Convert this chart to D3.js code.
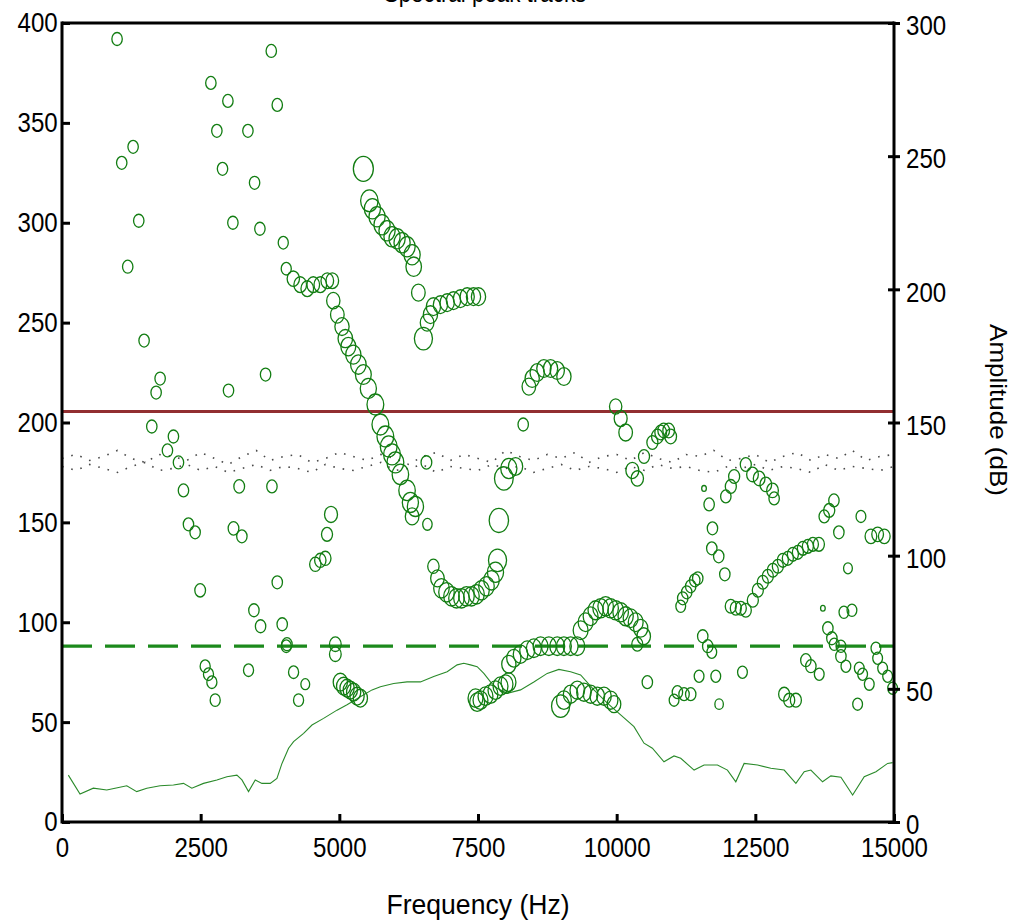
<!DOCTYPE html>
<html>
<head>
<meta charset="utf-8">
<script src="https://cdn.jsdelivr.net/npm/d3@7"></script>
<style>
  html, body { margin: 0; padding: 0; background: #fff; }
  svg text { font-family: "Liberation Sans", Arial, sans-serif; }
</style>
</head>
<body>
<svg id="chart" width="1016" height="922"></svg>
<script>
// ---------- data ----------
const xTicks = [0, 2500, 5000, 7500, 10000, 12500, 15000];
const leftTicks = [0, 50, 100, 150, 200, 250, 300, 350, 400];
const rightTicks = [0, 50, 100, 150, 200, 250, 300];

const titleText = "Spectral peak tracks";
const xLabel = "Frequency (Hz)";
const rightLabel = "Amplitude (dB)";

// reference levels (left axis units)
const redLevel = 205.5;
const greenLevel = 88;

// spectral peaks: frequency (Hz), left-axis value, peak amplitude (dB)
const peakFreq = [
  993,3773,2684,2991,3881,2792,3352,1282,1077,2894,3472,1384,3081,3568,3989,1185,4043,
  1480,1769,1697,3002,3670,1619,
  2009,1901,2100,2190,3195,3785,2280,2400,3092,3243,2491,3881,3460,3580,3970,4043,
  2581,2641,2702,2762,3363,4175,4386,4265,4056,
  4170,4295,4422,4530,4657,4783,4873,
  4891,4964,5048,5108,5162,5252,5343,5433,5523,5650,5740,5830,5890,5950,6011,6101,6221,6281,6372,6312,
  5433,5541,5596,5680,5770,5860,5950,6041,6131,6221,6312,6341,6425,6516,
  6582,6642,6696,6823,6944,7058,7184,7305,7419,7509,
  6570,6588,4850,4778,4567,4657,4747,4928,4928,
  6696,6769,6841,6932,7022,7112,7202,7292,7382,7473,7563,7653,7743,7815,7852,
  7876,7966,8056,8177,8315,
  8417,8477,8567,8688,8808,8929,9049,
  9982,10072,10162,
  10644,10734,10794,10848,10938,10974,10493,10283,10372,
  11575,11667,11727,11715,11840,11950,
  12118,12058,11968,12328,12449,12569,12689,12810,12839,
  13917,13832,13742,14404,14006,14584,14705,14825,
  11155,11191,11263,11335,11408,11462,
  12057,12148,12238,12328,
  12455,12545,12635,12725,12816,12906,12996,13086,13177,13267,13357,13447,13538,13646,
  13718,14097,14242,13808,13880,14170,
  9350,9440,9530,9621,9711,9801,9891,9982,10072,10162,10252,10343,10433,10487,10372,
  8056,8146,8267,8387,8507,8628,8778,8929,9049,9170,9290,
  7455,7485,7545,7635,7725,7815,7906,7996,8050,
  8989,9049,9170,9290,9410,9530,9651,9771,9891,9952,
  5018,5078,5139,5198,5258,5319,5379,
  10553,11095,11215,11335,11035,11486,11787,12268,11847,11552,11642,11715,
  13411,13501,13652,13020,13111,13231,14344,
  14043,14133,14374,14434,14554,14674,14705,14795,14885,14975,13922,14043
];
const peakValue = [
  392,386,370,361,359,346,346,338,330,327,320,301,300,297,290,278,277,
  241,222,215,216,224,198,
  193,186,180,166,168,168,149,145,147,143,116,120,106,98,99,88,
  78,74,70,61,76,75,69,61,89,
  272,269,267,269,269,271,271,
  261,254,248,242,238,234,229,224,217,209,199,193,188,184,180,174,166,160,158,153,
  327,311,307,303,299,296,293,292,290,288,284,278,265,242,
  250,254,258,259,260,261,262,263,263,263,
  180,149,154,144,129,131,132,84,89,
  128,122,117,115,113,112,112,113,113,114,116,118,121,125,131,
  151,172,177,178,199,
  218,222,225,227,227,226,223,
  208,202,195,
  190,193,195,196,196,193,183,176,172,
  167,159,147,137,133,124,
  173,168,163,179,174,172,169,166,162,
  161,156,153,153,145,143,144,143,
  108,112,115,118,121,122,
  108,107,107,106,
  111,116,120,123,126,128,131,132,134,135,137,138,139,139,
  107,105,106,97,92,127,
  96,100,103,106,107,108,107,106,105,103,102,100,97,93,89,
  79,82,84,86,87,88,88,88,88,88,88,
  62,60,61,63,64,66,68,69,70,
  58,61,64,66,65,64,63,63,61,59,
  70,68,67,66,65,63,62,
  70,65,64,64,61,73,73,75,59,93,88,85,
  81,78,74,64,61,61,59,
  83,78,77,74,69,87,82,77,73,67,89,88
];
const peakAmp = [
  30,30,30,30,30,30,30,30,30,30,30,30,30,30,29,30,29,
  30,30,30,30,30,30,
  30,30,30,30,31,30,30,30,31,30,31,30,30,30,30,29,
  29,29,29,29,29,29,25,29,30,
  36,37,37,37,37,37,37,
  39,40,42,43,44,45,46,47,48,50,50,50,50,50,50,49,49,48,48,40,
  60,52,48,48,48,48,48,48,48,48,48,46,40,54,
  40,42,42,42,42,42,42,42,42,42,
  31,27,38,32,33,33,33,34,34,
  33,40,46,46,46,46,46,46,46,46,46,46,46,48,54,
  58,56,48,42,30,
  40,42,42,42,42,42,42,
  36,38,40,
  32,34,34,34,34,34,32,38,36,
  12,30,30,30,30,30,
  32,32,30,32,34,34,34,34,30,
  30,32,30,28,30,34,34,34,
  28,30,30,30,30,30,
  32,32,32,32,
  32,32,32,32,32,32,32,32,32,32,32,32,32,32,
  12,28,28,30,30,25,
  44,44,44,45,46,46,46,46,46,45,44,44,42,40,32,
  42,42,43,44,44,44,44,44,44,44,44,
  44,44,44,44,44,44,44,44,44,
  54,44,43,43,43,43,43,43,43,40,
  42,42,42,42,42,42,42,
  30,30,30,30,28,28,28,28,24,30,30,28,
  30,30,28,32,32,32,28,
  30,28,28,28,28,28,28,28,28,28,28,28
];

// amplitude spectrum envelope (right axis, dB)
const envFreq = [
  114,325,565,807,957,1168,1348,1529,1769,2009,
  2190,2341,2551,2792,2973,3153,3244,3363,3484,3605,
  3754,3875,3966,4085,4175,4356,4507,4716,4958,5139,
  5379,5590,5740,5980,6221,6462,6702,6944,7124,7244,
  7364,7485,7605,7725,7846,8027,8267,8507,8748,8958,
  9169,9350,9590,9832,10072,10312,10493,10644,10853,11034,
  11155,11396,11576,11817,11997,12148,12298,12540,12779,13020,
  13231,13381,13501,13712,13862,14043,14254,14463,14675,14885,14975
];
const envDb = [
  17.6,10.5,12.7,12,12.7,13.6,11.4,12.7,13.6,13.9,
  14.5,12.7,14.5,15.8,17,17.6,15.8,11.4,15.8,14.5,
  14.5,16.4,22,27.7,30.2,33.3,36.4,38.9,42,44,
  47,49.6,50.8,52,52.6,52.6,54.6,56.4,59,59.6,
  59,58.3,55.8,52.6,50.2,48.3,49.6,52.6,55.8,57.3,
  56.4,55.2,49.6,44.6,40.2,35.8,29.6,27.7,22.6,24.8,
  23.9,19.5,21.4,21.4,19.5,15.1,22,21.4,20.2,19.5,
  14.5,18.9,19.5,15.1,17.3,16.8,10.1,17,18.9,22,22.3
];

// dotted noise-floor traces (left-axis units), sampled evenly over 0..15000 Hz
const noiseUpper = [182,184,181,183,186,182,180,184,183,181,185,182,179,183,186,181,183,184,180,182,185,183,181,184,182,179,183,185,181,184,182,180,186,183,181,184,182,185,180,183,184,181,185,182,180,184,183,186,181,182,184,180,183,185,181,184,182,186,181,183,184];
const noiseLower = [178,176,179,177,175,178,180,176,177,179,176,178,175,177,179,176,178,177,175,179,177,176,178,180,176,177,179,175,178,177,176,179,177,178,175,177,179,176,178,177,175,178,176,179,177,178,176,175,178,177,179,176,178,177,175,179,176,178,177,176,178];

// ---------- layout ----------
const L = 62, R = 894, T = 23, B = 822;
const FS = 28, SX = 0.86;
const svg = d3.select("#chart");

const x = d3.scaleLinear().domain([0, 15000]).range([L, R]);
const yL = d3.scaleLinear().domain([0, 400]).range([B, T]);
const yR = d3.scaleLinear().domain([0, 300]).range([B, T]);
const rScale = d3.scaleLinear().domain([10, 60]).range([2.5, 12.5]);

const green = "#127d12";

// title (clipped at top of canvas in the reference)
svg.append("text")
  .attr("transform", `translate(485,2) scale(${SX},1)`)
  .attr("text-anchor", "middle")
  .attr("font-size", 26)
  .attr("fill", "#000")
  .text(titleText);

// noise traces
const noiseStep = 15000 / (noiseUpper.length - 1);
[noiseUpper, noiseLower].forEach(arr => {
  svg.append("path")
    .datum(arr)
    .attr("fill", "none")
    .attr("stroke", "#4a4a4a")
    .attr("stroke-width", 1.6)
    .attr("stroke-dasharray", "1.6,8")
    .attr("d", d3.line().x((d, i) => x(i * noiseStep)).y(d => yL(d)));
});

// red reference line
svg.append("line")
  .attr("x1", x(0)).attr("x2", x(15000))
  .attr("y1", yL(redLevel)).attr("y2", yL(redLevel))
  .attr("stroke", "#922f31").attr("stroke-width", 3);

// green dashed reference line
svg.append("line")
  .attr("x1", x(0)).attr("x2", x(15000))
  .attr("y1", yL(greenLevel)).attr("y2", yL(greenLevel))
  .attr("stroke", "#1c8a1c").attr("stroke-width", 3.2)
  .attr("stroke-dasharray", "30,13");

// amplitude envelope
svg.append("path")
  .datum(envFreq.map((f, i) => [f, envDb[i]]))
  .attr("fill", "none")
  .attr("stroke", "#2a8a2a")
  .attr("stroke-width", 1.1)
  .attr("d", d3.line().x(d => x(d[0])).y(d => yR(d[1])));

// peaks
const peaks = peakFreq.map((f, i) => ({ f, v: peakValue[i], a: peakAmp[i] }));
svg.append("g").selectAll("ellipse")
  .data(peaks)
  .join("ellipse")
  .attr("cx", d => x(d.f))
  .attr("cy", d => yL(d.v))
  .attr("rx", d => rScale(d.a) * 0.8)
  .attr("ry", d => rScale(d.a))
  .attr("fill", "none")
  .attr("stroke", green)
  .attr("stroke-width", 1.3);

// frame
const frame = svg.append("g").attr("stroke", "#000").attr("stroke-width", 3);
frame.append("line").attr("x1", L).attr("x2", R).attr("y1", T).attr("y2", T);
frame.append("line").attr("x1", L).attr("x2", R).attr("y1", B).attr("y2", B);
frame.append("line").attr("x1", L).attr("x2", L).attr("y1", T - 1.5).attr("y2", B + 1.5);
frame.append("line").attr("x1", R).attr("x2", R).attr("y1", T - 1.5).attr("y2", B + 1.5);

function styleAxis(g) {
  g.select(".domain").remove();
  g.selectAll(".tick line").attr("stroke", "#000").attr("stroke-width", 3);
  g.selectAll(".tick text").attr("fill", "#000").attr("font-size", FS)
    .attr("font-family", '"Liberation Sans", Arial, sans-serif')
    .attr("transform", `scale(${SX},1)`);
}

// left axis
svg.append("g").attr("transform", `translate(${L},0)`)
  .call(d3.axisLeft(yL).tickValues(leftTicks).tickSize(-8).tickPadding(5).tickFormat(d3.format("d")))
  .call(styleAxis);

// bottom axis
svg.append("g").attr("transform", `translate(0,${B})`)
  .call(d3.axisBottom(x).tickValues(xTicks).tickSize(-8).tickPadding(15).tickFormat(d3.format("d")))
  .call(styleAxis);

// right axis
const ra = svg.append("g").attr("transform", `translate(${R},0)`)
  .call(d3.axisRight(yR).tickValues(rightTicks).tickSize(6).tickPadding(8).tickFormat(d3.format("d")))
  .call(styleAxis);
ra.selectAll(".tick line").attr("x1", -6).attr("x2", 6);
ra.selectAll(".tick text").attr("dy", "0.42em");

// axis titles
svg.append("text")
  .attr("transform", "translate(478,914) scale(0.95,1)")
  .attr("text-anchor", "middle")
  .attr("font-size", 28)
  .text(xLabel);

svg.append("text")
  .attr("transform", "translate(990,410) rotate(90) scale(1,0.95)")
  .attr("text-anchor", "middle")
  .attr("font-size", 26)
  .text(rightLabel);
</script>
</body>
</html>
